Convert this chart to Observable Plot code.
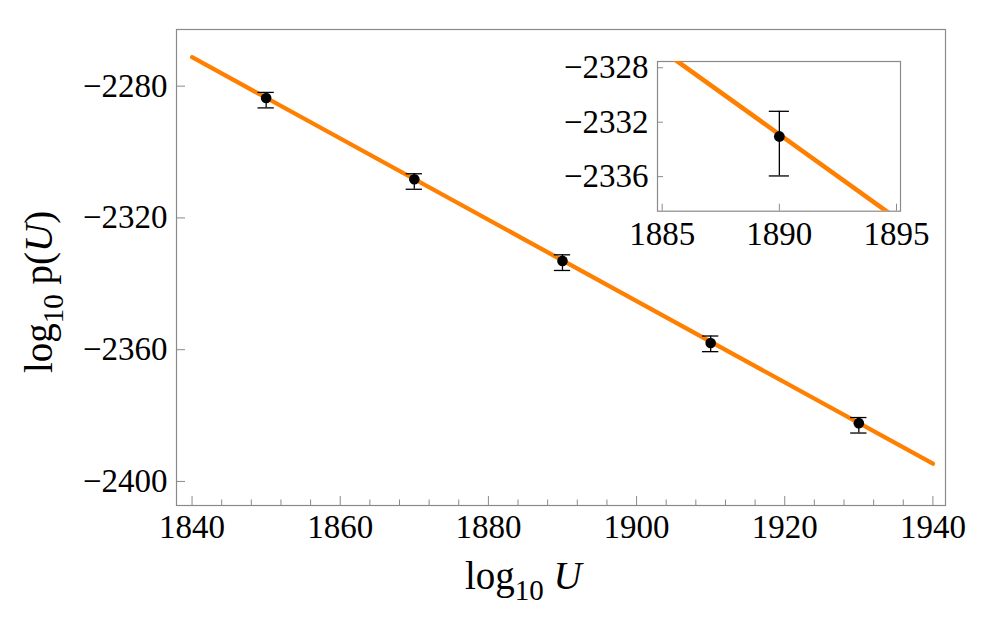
<!DOCTYPE html>
<html>
<head>
<meta charset="utf-8">
<script src="https://cdn.jsdelivr.net/npm/d3@7"></script>
<script src="https://cdn.jsdelivr.net/npm/@observablehq/plot@0.6"></script>
<style>
  html, body { margin: 0; padding: 0; background: #fff; }
  #wrap { position: relative; width: 997px; height: 635px; overflow: hidden; }
  #wrap > svg { position: absolute; }
</style>
</head>
<body>
<div id="wrap"></div>
<script>
// ---- data ----
const logU       = [1850, 1870, 1890, 1910, 1930];
const logP       = [-2283.6, -2308.25, -2333.05, -2357.95, -2382.3];
const errUpper   = [-2281.9, -2306.6, -2331.2, -2355.85, -2380.6];
const errLower   = [-2286.6, -2311.3, -2335.95, -2360.6, -2385.3];
const fitU       = [1840, 1940];
const fitP       = [-2271.2, -2394.6];
const insetU     = [1890];
const insetP     = [-2333.05];
const insetUpper = [-2331.2];
const insetLower = [-2335.95];

// ---- ticks ----
const xMajorTicks = [1840, 1860, 1880, 1900, 1920, 1940];
const xMinorTicks = d3.range(1840, 1941, 4).filter(v => !xMajorTicks.includes(v));
const yMajorTicks = [-2280, -2320, -2360, -2400];
const insetXTicks = [1885, 1890, 1895];
const insetYTicks = [-2328, -2332, -2336];

const points = logU.map((u, i) => ({u, p: logP[i], hi: errUpper[i], lo: errLower[i]}));
const fit = fitU.map((u, i) => ({u, p: fitP[i]}));
const insetPts = insetU.map((u, i) => ({u, p: insetP[i], hi: insetUpper[i], lo: insetLower[i]}));

const ORANGE = "#ff8000";
const FRAME = "#8a8a8a";
const FONT = "'Liberation Serif', 'Times New Roman', serif";
const TICK_FS = 33;
const fmtY = d => "\u2212" + Math.abs(d);
const fmtX = d => String(d);

function styleTicks(svg, size) {
  d3.select(svg).selectAll("text")
    .style("font-family", FONT)
    .style("font-size", size + "px")
    .style("fill", "#000");
}

// ---- main plot ----
const xDom = [1837.9, 1941.7];
const yDom = [-2407.3, -2262.8];
const mainH = 635, mB = 130, mT = 29;
const pxPerY = (mainH - mB - mT) / (yDom[1] - yDom[0]);
const pxPerX = (997 - 176 - 52) / (xDom[1] - xDom[0]);

const main = Plot.plot({
  width: 997, height: mainH,
  marginLeft: 176, marginRight: 52, marginTop: mT, marginBottom: mB,
  x: {domain: xDom},
  y: {domain: yDom},
  style: {fontFamily: FONT, fontSize: TICK_FS + "px", color: "#000", background: "transparent", overflow: "visible"},
  marks: [
    Plot.ruleX(xMajorTicks, {x: d => d, y1: yDom[0], y2: yDom[0] + 9 / pxPerY, stroke: FRAME, strokeWidth: 1}),
    Plot.ruleX(xMinorTicks, {x: d => d, y1: yDom[0], y2: yDom[0] + 5.5 / pxPerY, stroke: FRAME, strokeWidth: 1}),
    Plot.ruleY(yMajorTicks, {y: d => d, x1: xDom[0], x2: xDom[0] + 9 / pxPerX, stroke: FRAME, strokeWidth: 1}),
    Plot.frame({stroke: FRAME, strokeWidth: 1.2}),
    Plot.axisX(xMajorTicks, {tickSize: 0, tickPadding: 9, tickFormat: fmtX, label: null, fontSize: TICK_FS}),
    Plot.axisY(yMajorTicks, {tickSize: 0, tickPadding: 9, tickFormat: fmtY, label: null, fontSize: TICK_FS}),
    Plot.line(fit, {x: "u", y: "p", stroke: ORANGE, strokeWidth: 4.3}),
    Plot.ruleX(points, {x: "u", y1: "lo", y2: "hi", stroke: "#000", strokeWidth: 1.3}),
    Plot.ruleY(points, {y: "hi", x1: d => d.u - 1.1, x2: d => d.u + 1.1, stroke: "#000", strokeWidth: 1.3}),
    Plot.ruleY(points, {y: "lo", x1: d => d.u - 1.1, x2: d => d.u + 1.1, stroke: "#000", strokeWidth: 1.3}),
    Plot.dot(points, {x: "u", y: "p", r: 5.3, fill: "#000"})
  ]
});
main.style.left = "0px";
main.style.top = "0px";
styleTicks(main, TICK_FS);

// axis labels with subscripts
const ms = d3.select(main);
const xl = ms.append("text").attr("x", 465).attr("y", 589)
  .attr("text-anchor", "start")
  .style("font-family", FONT).style("font-size", "39px").attr("fill", "#000");
xl.append("tspan").text("log");
xl.append("tspan").style("font-size", "29px").attr("dy", 11).text("10");
xl.append("tspan").attr("dy", -11).text(" ");
xl.append("tspan").attr("font-style", "italic").text("U");

const yl = ms.append("text").attr("transform", "translate(52,373) rotate(-90)")
  .attr("text-anchor", "start")
  .style("font-family", FONT).style("font-size", "39px").attr("fill", "#000");
yl.append("tspan").text("log");
yl.append("tspan").style("font-size", "29px").attr("dy", 11).text("10");
yl.append("tspan").attr("dy", -11).text(" p(");
yl.append("tspan").attr("font-style", "italic").text("U");
yl.append("tspan").text(")");

// ---- inset ----
const ixDom = [1884.8, 1895.17];
const iyDom = [-2338.54, -2327.54];
const iW = 370, iH = 220, iL = 107, iR = 20, iT = 21, iB = 49.3;
const ipxY = (iH - iT - iB) / (iyDom[1] - iyDom[0]);
const ipxX = (iW - iL - iR) / (ixDom[1] - ixDom[0]);

const inset = Plot.plot({
  width: iW, height: iH,
  marginLeft: iL, marginRight: iR, marginTop: iT, marginBottom: iB,
  x: {domain: ixDom},
  y: {domain: iyDom},
  style: {fontFamily: FONT, fontSize: TICK_FS + "px", color: "#000", background: "transparent", overflow: "visible"},
  marks: [
    Plot.ruleX(insetXTicks, {x: d => d, y1: iyDom[0], y2: iyDom[0] + 7 / ipxY, stroke: FRAME, strokeWidth: 1}),
    Plot.ruleY(insetYTicks, {y: d => d, x1: ixDom[0], x2: ixDom[0] + 6 / ipxX, stroke: FRAME, strokeWidth: 1}),
    Plot.frame({stroke: FRAME, strokeWidth: 1.2}),
    Plot.axisX(insetXTicks, {tickSize: 0, tickPadding: 10, tickFormat: fmtX, label: null, fontSize: TICK_FS}),
    Plot.axisY(insetYTicks, {tickSize: 0, tickPadding: 9, tickFormat: fmtY, label: null, fontSize: TICK_FS}),
    Plot.line(fit, {x: "u", y: "p", stroke: ORANGE, strokeWidth: 4.6, clip: true}),
    Plot.ruleX(insetPts, {x: "u", y1: "lo", y2: "hi", stroke: "#000", strokeWidth: 1.3}),
    Plot.ruleY(insetPts, {y: "hi", x1: d => d.u - 0.43, x2: d => d.u + 0.43, stroke: "#000", strokeWidth: 1.3}),
    Plot.ruleY(insetPts, {y: "lo", x1: d => d.u - 0.43, x2: d => d.u + 0.43, stroke: "#000", strokeWidth: 1.3}),
    Plot.dot(insetPts, {x: "u", y: "p", r: 5.4, fill: "#000"})
  ]
});
inset.style.left = "550px";
inset.style.top = "40px";
styleTicks(inset, TICK_FS);

const wrap = document.getElementById("wrap");
wrap.appendChild(main);
wrap.appendChild(inset);
</script>
</body>
</html>
